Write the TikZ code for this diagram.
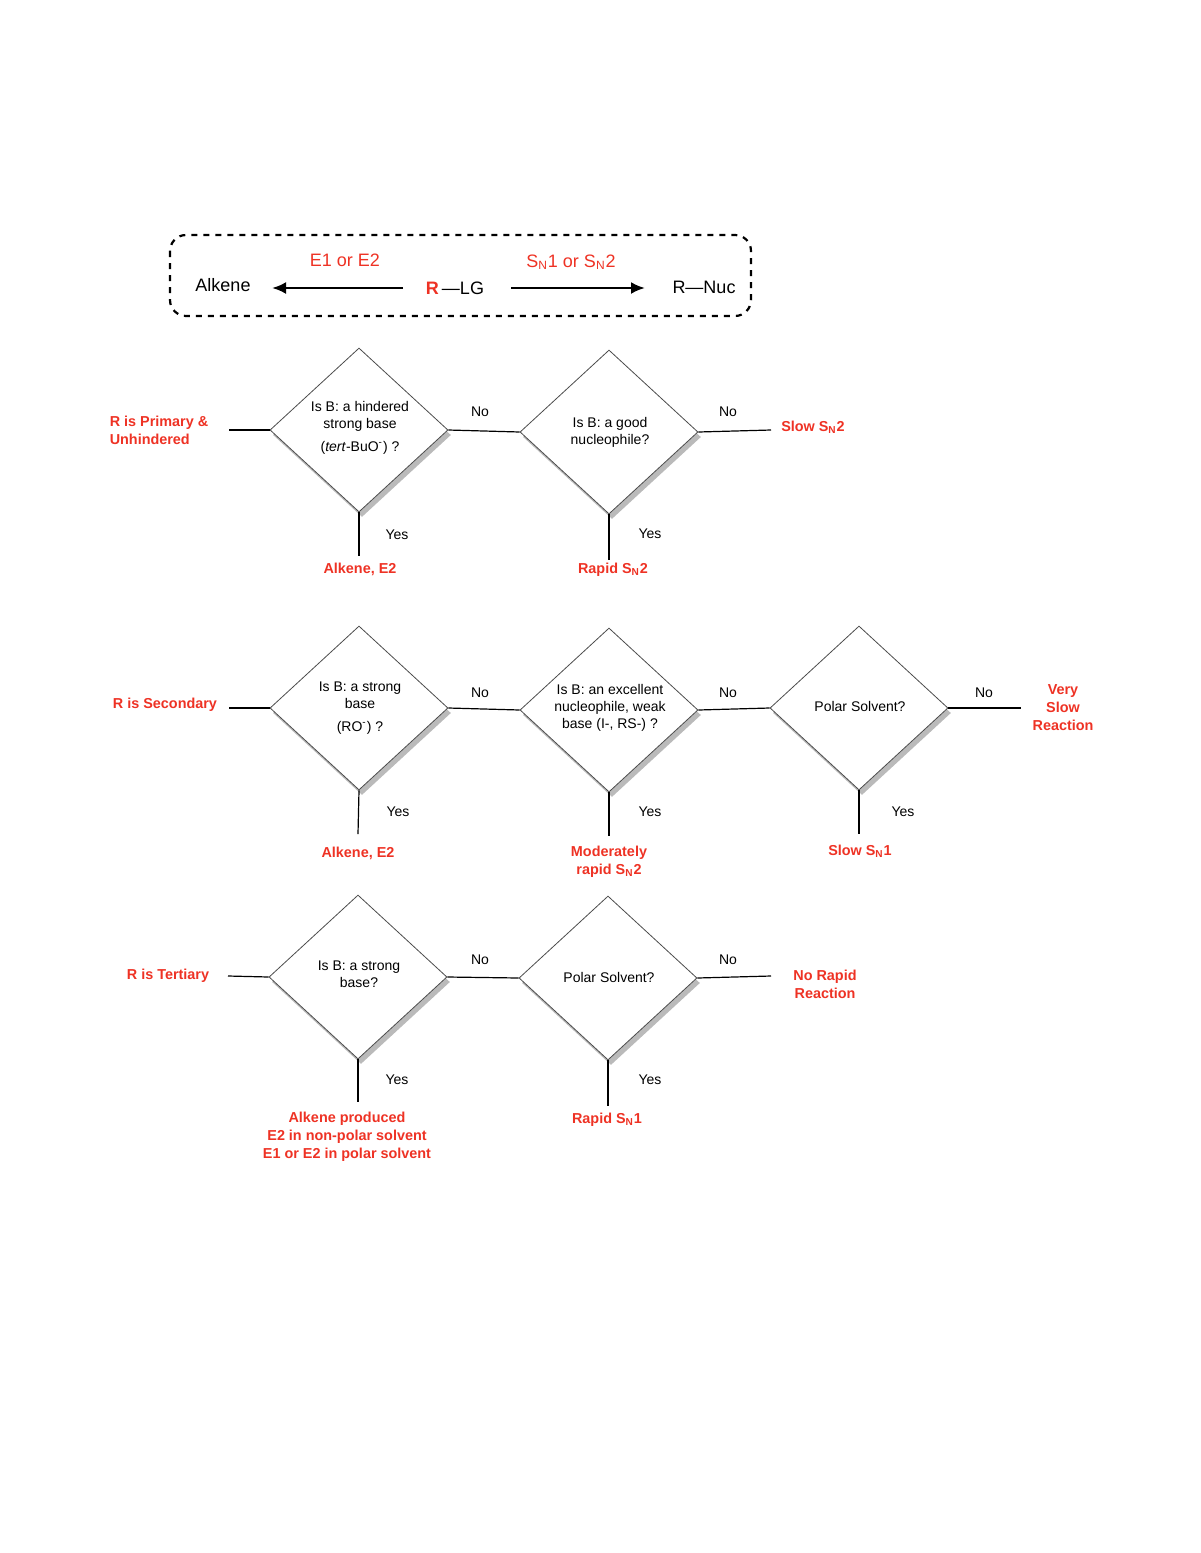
\documentclass[tikz,border=0pt]{standalone}
\usepackage{fontspec}
\setmainfont{Liberation Sans}
\usetikzlibrary{shapes.geometric,shadows,arrows.meta}
\definecolor{rd}{RGB}{238,50,36}
\newcommand{\sbn}{\textsubscript{N}}
\begin{document}
\begin{tikzpicture}[x=0.5pt,y=-0.5pt,
  dia/.style={draw=black!70,fill=white,shape=diamond,inner sep=0pt,minimum width=89pt,minimum height=82pt,
    drop shadow={shadow xshift=1.5pt,shadow yshift=-2.5pt,fill=black!45,opacity=0.6}},
  dtext/.style={font=\fontsize{7}{8.6}\selectfont,align=center},
  res/.style={font=\bfseries\fontsize{7.2}{9}\selectfont,text=rd,align=center},
  yn/.style={font=\fontsize{7}{8}\selectfont},
  ln/.style={draw=black,line width=0.6pt}]
\useasboundingbox (0,0) rectangle (1200,1553);
% header
\draw[dashed,line width=1.1pt,rounded corners=8pt] (170,235) rectangle (751,316);
\node[font=\fontsize{9}{10}\selectfont] (alk) at (223,285) {Alkene};
\node[font=\fontsize{9}{10}\selectfont] (rlg) at (455,288) {\textcolor{rd}{\textbf{R}}\,---LG};
\node[font=\fontsize{9}{10}\selectfont] (rnuc) at (704,287) {R---Nuc};
\node[font=\fontsize{9}{10}\selectfont,text=rd] (e12) at (345,260) {E1 or E2};
\node[font=\fontsize{9}{10}\selectfont,text=rd] (sn12) at (571,262) {S\sbn1 or S\sbn2};
\coordinate (a1s) at (403,288); \coordinate (a1e) at (272,288);
\coordinate (a2s) at (511,288); \coordinate (a2e) at (645,288);
\draw[line width=1.3pt,-{Latex[length=7pt,width=6pt]}] (a1s) -- (a1e);
\draw[line width=1.3pt,-{Latex[length=7pt,width=6pt]}] (a2s) -- (a2e);
% Row 1
\node[res,align=left] (p) at (159,430) {R is Primary \&\\Unhindered};
\node[dia] (d1) at (359,430) {};
\node[dtext] at (360,428) {Is B: a hindered\\strong base\\[3pt](\textit{tert}-BuO\textsuperscript{-}) ?};
\node[dia] (d2) at (609,432) {};
\node[dtext] at (610,432) {Is B: a good\\nucleophile?};
\node[res] (r1a) at (360,569) {Alkene, E2};
\node[res] (r1b) at (613,570) {Rapid S\sbn2};
\node[res] (r1c) at (813,427) {Slow S\sbn2};
\coordinate (c1) at (229,430); \coordinate (c2) at (771,430);
\coordinate (y1) at (359,556); \coordinate (y2) at (609,560);
\draw[ln] (c1) -- (d1.west); \draw[ln] (d1.east) -- (d2.west); \draw[ln] (d2.east) -- (c2);
\draw[ln] (d1.south) -- (y1); \draw[ln] (d2.south) -- (y2);
\node[yn] at (480,412) {No}; \node[yn] at (728,412) {No};
\node[yn] at (397,535) {Yes}; \node[yn] at (650,534) {Yes};
% Row 2
\node[res] (s) at (165,705) {R is Secondary};
\node[dia] (d3) at (359,708) {};
\node[dtext] at (360,708) {Is B: a strong\\base\\[3pt](RO\textsuperscript{-}) ?};
\node[dia] (d4) at (609,710) {};
\node[dtext] at (610,708) {Is B: an excellent\\nucleophile, weak\\base (I-, RS-) ?};
\node[dia] (d5) at (859,708) {};
\node[dtext] at (860,706) {Polar Solvent?};
\node[res] (r2a) at (358,853) {Alkene, E2};
\node[res] (r2b) at (609,862) {Moderately\\rapid S\sbn2};
\node[res] (r2c) at (860,851) {Slow S\sbn1};
\node[res] (r2d) at (1063,708) {Very\\Slow\\Reaction};
\coordinate (c3) at (229,708); \coordinate (c4) at (1021,708);
\coordinate (y3) at (358,834); \coordinate (y4) at (609,836); \coordinate (y5) at (859,834);
\draw[ln] (c3) -- (d3.west); \draw[ln] (d3.east) -- (d4.west); \draw[ln] (d4.east) -- (d5.west); \draw[ln] (d5.east) -- (c4);
\draw[ln] (d3.south) -- (y3); \draw[ln] (d4.south) -- (y4); \draw[ln] (d5.south) -- (y5);
\node[yn] at (480,693) {No}; \node[yn] at (728,693) {No}; \node[yn] at (984,693) {No};
\node[yn] at (398,812) {Yes}; \node[yn] at (650,812) {Yes}; \node[yn] at (903,812) {Yes};
% Row 3
\node[res] (t) at (168,976) {R is Tertiary};
\node[dia] (d6) at (358,977) {};
\node[dtext] at (359,974) {Is B: a strong\\base?};
\node[dia] (d7) at (608,978) {};
\node[dtext] at (609,977) {Polar Solvent?};
\node[res] (r3a) at (347,1137) {Alkene produced\\E2 in non-polar solvent\\E1 or E2 in polar solvent};
\node[res] (r3b) at (607,1120) {Rapid S\sbn1};
\node[res] (r3c) at (825,984) {No Rapid\\Reaction};
\coordinate (c5) at (228,976); \coordinate (c6) at (771,976);
\coordinate (y6) at (358,1102); \coordinate (y7) at (608,1106);
\draw[ln] (c5) -- (d6.west); \draw[ln] (d6.east) -- (d7.west); \draw[ln] (d7.east) -- (c6);
\draw[ln] (d6.south) -- (y6); \draw[ln] (d7.south) -- (y7);
\node[yn] at (480,960) {No}; \node[yn] at (728,960) {No};
\node[yn] at (397,1080) {Yes}; \node[yn] at (650,1080) {Yes};
\end{tikzpicture}
\end{document}
